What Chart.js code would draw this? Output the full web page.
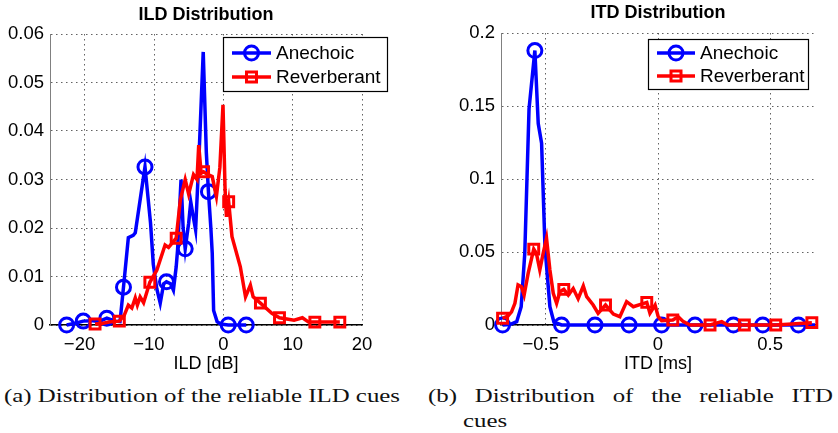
<!DOCTYPE html>
<html>
<head>
<meta charset="utf-8">
<script src="https://cdn.jsdelivr.net/npm/chart.js@4.4.1/dist/chart.umd.min.js"></script>
<style>
  html, body { margin: 0; padding: 0; background: #fff; }
  #page { position: relative; width: 838px; height: 433px; overflow: hidden; }
  canvas { position: absolute; top: 0; }
  .title { position: absolute; font: bold 18px "Liberation Sans", Arial, sans-serif; line-height: 18px; white-space: nowrap; transform: translateX(-50%); }
  .cap { position: absolute; font: 19px "Liberation Serif", "Times New Roman", serif; line-height: 19px; white-space: nowrap; transform-origin: 0 0; color: #111; }
</style>
</head>
<body>
<div id="page">
  <canvas id="ild" width="420" height="375" style="left:0"></canvas>
  <canvas id="itd" width="418" height="375" style="left:420px"></canvas>
  <div class="title" style="left:206px;top:5px">ILD Distribution</div>
  <div class="title" style="left:658px;top:3px">ITD Distribution</div>
  <div class="cap" id="capA" style="left:4px;top:386px">(a) Distribution of the reliable ILD cues</div>
  <div class="cap" id="capB1" style="left:428px;top:386px;text-align:justify;text-align-last:justify">(b) Distribution of the reliable ITD</div>
  <div class="cap" id="capB2" style="left:463px;top:411px">cues</div>
</div>
<script>
// ILD histogram (dB)
const ildAnechoicX = [-22.6, -21.5, -20.2, -19.0, -18.0, -16.8, -15.6, -14.9, -14.4, -13.7, -13.0, -12.7, -11.3, -10.5, -10.1, -9.6, -9.1, -8.6, -8.2, -7.6, -7.2, -6.8, -6.6, -6.1, -5.8, -5.5, -5.0, -4.7, -4.3, -4.0, -3.5, -2.9, -2.45, -2.15, -1.8, -1.6, -1.4, -0.9, -0.4, 0.7, 2.0, 3.3];
const ildAnechoicY = [0, 0.0003, 0.0008, 0.0009, 0.0007, 0.0014, 0.0008, 0.0007, 0.0078, 0.018, 0.0185, 0.019, 0.0326, 0.021, 0.0125, 0.0075, 0.0045, 0.0085, 0.0089, 0.0085, 0.0072, 0.012, 0.0155, 0.030, 0.020, 0.0157, 0.021, 0.0254, 0.022, 0.0196, 0.035, 0.0563, 0.0355, 0.0275, 0.020, 0.0148, 0.003, 0.0007, 0.0002, 0, 0, 0];
const ildAnechoicMarks = [-22.6, -20.2, -16.8, -14.4, -11.3, -8.2, -5.5, -2.15, 0.7, 3.3];

const ildReverbX = [-18.5, -17.5, -16.5, -15.0, -14.3, -13.7, -13.2, -12.7, -12.4, -12.0, -11.5, -10.6, -9.6, -8.4, -7.9, -6.8, -6.2, -5.5, -5.0, -4.3, -3.8, -3.55, -3.2, -2.85, -2.2, -1.6, -1.0, -0.5, -0.05, 0.25, 0.45, 0.77, 1.25, 2.45, 3.2, 3.9, 4.3, 5.35, 7.0, 8.1, 10.2, 11.4, 12.3, 13.2, 16.8];
const ildReverbY = [0.0002, 0.0003, 0.0006, 0.0008, 0.002, 0.0041, 0.0035, 0.0056, 0.0041, 0.0058, 0.0046, 0.0088, 0.0113, 0.0165, 0.016, 0.0179, 0.0258, 0.030, 0.0270, 0.031, 0.030, 0.0371, 0.0313, 0.0316, 0.031, 0.0306, 0.0265, 0.0325, 0.0454, 0.028, 0.0223, 0.0254, 0.0182, 0.012, 0.0058, 0.0082, 0.0058, 0.0045, 0.0024, 0.0015, 0.001, 0.0015, 0.0006, 0.0006, 0.0006];
const ildReverbMarks = [-18.5, -15.0, -10.6, -6.8, -2.85, 0.77, 5.35, 8.1, 13.2, 16.8];

const ildTicksX = [-20, -10, 0, 10, 20];
const ildTicksY = [0, 0.01, 0.02, 0.03, 0.04, 0.05, 0.06];

// ITD histogram (ms)
const itdAnechoicX = [-0.693, -0.66, -0.63, -0.61, -0.594, -0.575, -0.549, -0.534, -0.519, -0.504, -0.482, -0.464, -0.43, -0.281, -0.129, 0.016, 0.165, 0.336, 0.467, 0.626, 0.7];
const itdAnechoicY = [0, 0.0003, 0.0023, 0.0125, 0.049, 0.148, 0.188, 0.138, 0.1245, 0.0536, 0.0125, 0.002, 0, 0, 0, 0, 0, 0, 0, 0, 0];
const itdAnechoicMarks = [-0.693, -0.549, -0.43, -0.281, -0.129, 0.016, 0.165, 0.336, 0.467, 0.626];

const itdReverbX = [-0.693, -0.67, -0.653, -0.638, -0.624, -0.609, -0.597, -0.579, -0.554, -0.542, -0.527, -0.512, -0.497, -0.482, -0.467, -0.452, -0.4375, -0.42, -0.4, -0.378, -0.356, -0.333, -0.318, -0.289, -0.267, -0.234, -0.199, -0.17, -0.14, -0.11, -0.05, -0.036, -0.013, 0.001, 0.016, 0.066, 0.09, 0.113, 0.143, 0.232, 0.284, 0.31, 0.385, 0.525, 0.686];
const itdReverbY = [0.0046, 0.006, 0.009, 0.0148, 0.0274, 0.0262, 0.0205, 0.0354, 0.052, 0.049, 0.0377, 0.049, 0.0594, 0.0377, 0.0217, 0.0148, 0.0228, 0.0244, 0.0205, 0.025, 0.018, 0.0267, 0.0194, 0.0137, 0.008, 0.0137, 0.0075, 0.0057, 0.016, 0.0125, 0.0155, 0.008, 0.0137, 0.0057, 0.003, 0.0034, 0.0057, 0.0023, 0, 0, 0.0023, 0, 0, 0, 0.0016];
const itdReverbMarks = [-0.693, -0.554, -0.42, -0.234, -0.05, 0.066, 0.232, 0.385, 0.525, 0.686];

const itdTicksX = [-0.5, 0, 0.5];
const itdTicksY = [0, 0.05, 0.1, 0.15, 0.2];

const seriesNames = ['Anechoic', 'Reverberant'];

const SANS = '"Liberation Sans", Arial, sans-serif';
const BLUE = '#0000ff';
const RED = '#ff0000';

// captions are set in a serif face stretched to the column width
const capA = document.getElementById('capA');
const k = 396 / capA.getBoundingClientRect().width;
document.querySelectorAll('.cap').forEach(el => { el.style.transform = 'scaleX(' + k + ')'; });
document.getElementById('capB1').style.width = (405 / k) + 'px';

function series(label, xs, ys, marks, color, style, order) {
  return {
    label: label,
    data: xs.map((x, i) => ({ x: x, y: ys[i] })),
    borderColor: color,
    borderWidth: 3.5,
    pointStyle: style,
    pointRadius: c => marks.includes(xs[c.dataIndex]) ? 7 : 0,
    pointBorderWidth: 3,
    pointBorderColor: color,
    pointBackgroundColor: 'rgba(0,0,0,0)',
    pointHoverRadius: 0,
    tension: 0,
    fill: false,
    clip: false,
    order: order
  };
}

// minus sign as in the plotting tool, with a figure space so the digits sit on the tick
function fmtX(v) {
  return v < 0 ? '\u2212' + Math.abs(v) + '\u2007' : String(v);
}
function fmtY(v) {
  return String(+v.toFixed(4));
}

// framed legend drawn inside the plot
const boxLegend = {
  id: 'boxLegend',
  afterDraw(chart, args, o) {
    const ctx = chart.ctx;
    ctx.save();
    ctx.fillStyle = '#fff';
    ctx.fillRect(o.x, o.y, o.w, o.h);
    ctx.strokeStyle = '#000';
    ctx.lineWidth = 1.2;
    ctx.strokeRect(o.x + 0.5, o.y + 0.5, o.w, o.h);
    chart.data.datasets.forEach((ds, i) => {
      const y = o.rows[i];
      ctx.strokeStyle = ds.borderColor;
      ctx.lineWidth = 3.5;
      ctx.beginPath();
      ctx.moveTo(o.line[0], y);
      ctx.lineTo(o.line[1], y);
      ctx.stroke();
      const cx = (o.line[0] + o.line[1]) / 2;
      ctx.lineWidth = 3;
      ctx.beginPath();
      if (ds.pointStyle === 'circle') {
        ctx.arc(cx, y, 7, 0, Math.PI * 2);
      } else {
        ctx.rect(cx - 5, y - 5, 10, 10);
      }
      ctx.stroke();
      ctx.fillStyle = '#000';
      ctx.font = '19px ' + SANS;
      ctx.textBaseline = 'middle';
      ctx.fillText(ds.label, o.text, y + 1);
    });
    ctx.restore();
  }
};

function makeChart(id, cfg) {
  const tickFont = { family: SANS, size: 18.5 };
  return new Chart(document.getElementById(id), {
    type: 'line',
    data: { datasets: cfg.datasets },
    plugins: [boxLegend],
    options: {
      responsive: false,
      animation: false,
      events: [],
      layout: { padding: cfg.padding },
      plugins: {
        legend: { display: false },
        tooltip: { enabled: false },
        boxLegend: cfg.legend
      },
      scales: {
        x: {
          type: 'linear',
          min: cfg.xMin,
          max: cfg.xMax,
          afterBuildTicks: s => { s.ticks = cfg.xTicks.map(v => ({ value: v })); },
          afterFit: s => { s.height = 50; },
          grid: { color: 'rgba(70,70,70,0.85)', lineWidth: 1, drawTicks: false },
          border: { color: '#000', width: 1.5, dash: [1.5, 3.5] },
          ticks: { font: tickFont, color: '#000', padding: 9, maxRotation: 0, autoSkip: false, callback: fmtX },
          title: { display: true, text: cfg.xTitle, font: { family: SANS, size: 18 }, color: '#000', padding: 0 }
        },
        y: {
          type: 'linear',
          min: 0,
          max: cfg.yMax,
          afterBuildTicks: s => { s.ticks = cfg.yTicks.map(v => ({ value: v })); },
          afterFit: s => { s.width = cfg.yWidth; },
          grid: { color: 'rgba(70,70,70,0.85)', lineWidth: 1, drawTicks: false },
          border: { color: '#808080', width: 1, dash: [1.5, 3.5] },
          ticks: { font: tickFont, color: '#000', padding: 6, callback: fmtY }
        }
      }
    }
  });
}

makeChart('ild', {
  datasets: [
    series(seriesNames[0], ildAnechoicX, ildAnechoicY, ildAnechoicMarks, BLUE, 'circle', 1),
    series(seriesNames[1], ildReverbX, ildReverbY, ildReverbMarks, RED, 'rect', 0)
  ],
  xMin: -25, xMax: 20, xTicks: ildTicksX, xTitle: 'ILD [dB]',
  yMax: 0.06, yTicks: ildTicksY, yWidth: 50,
  padding: { left: 0, top: 34, right: 58, bottom: 0 },
  legend: { x: 223, y: 37, w: 164, h: 54, line: [232, 271], rows: [53, 77], text: 276 }
});

makeChart('itd', {
  datasets: [
    series(seriesNames[0], itdAnechoicX, itdAnechoicY, itdAnechoicMarks, BLUE, 'circle', 1),
    series(seriesNames[1], itdReverbX, itdReverbY, itdReverbMarks, RED, 'rect', 0)
  ],
  xMin: -0.7, xMax: 0.7, xTicks: itdTicksX, xTitle: 'ITD [ms]',
  yMax: 0.2, yTicks: itdTicksY, yWidth: 81,
  padding: { left: 0, top: 33, right: 23, bottom: 0 },
  legend: { x: 228, y: 39, w: 160, h: 50, line: [237, 275], rows: [53, 76], text: 280 }
});
</script>
</body>
</html>
